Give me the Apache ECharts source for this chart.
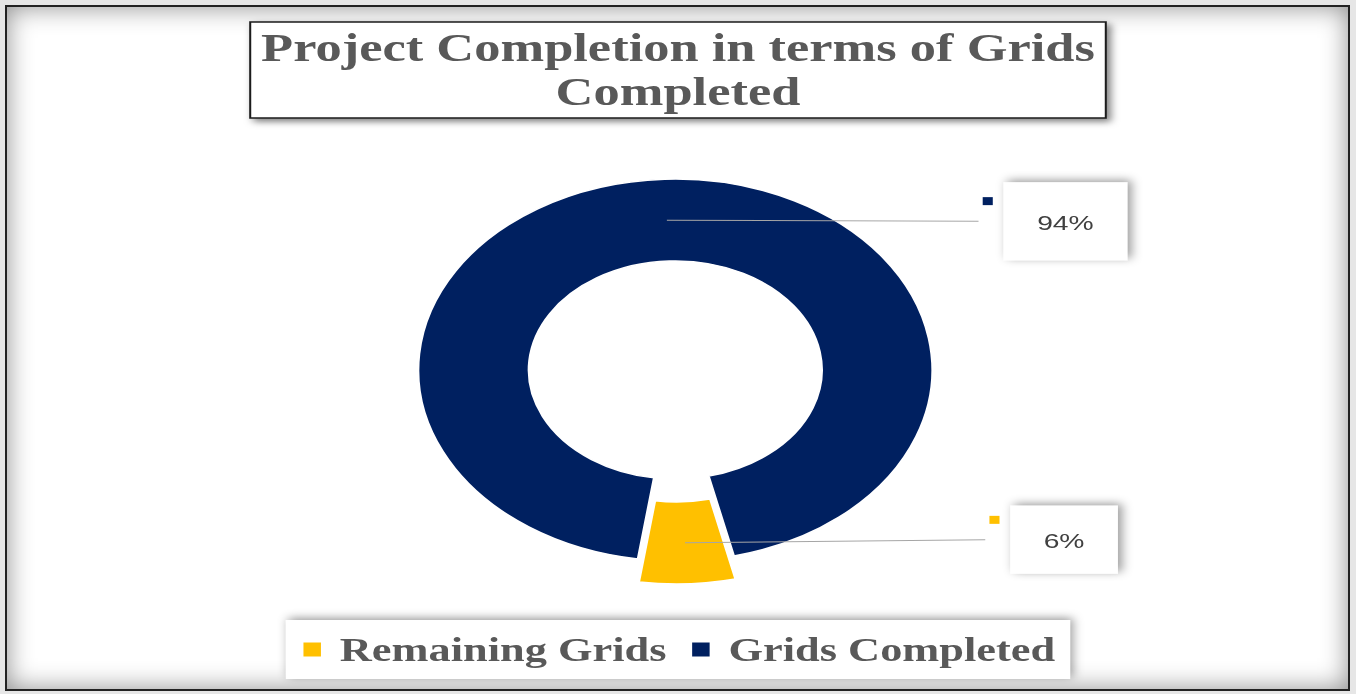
<!DOCTYPE html>
<html>
<head>
<meta charset="utf-8">
<title>Project Completion in terms of Grids Completed</title>
<script src="https://cdn.jsdelivr.net/npm/echarts@6/dist/echarts.min.js"></script>
<style>
  html, body { margin: 0; padding: 0; width: 1356px; height: 694px; overflow: hidden; background: #e6e6e6; }
  #frame {
    position: absolute; left: 5px; top: 5px; width: 1341px; height: 682px;
    border: 2px solid #222; background: #fff;
    box-shadow: inset 0 0 26px rgba(0, 0, 0, 0.45);
  }
  /* the original picture is stretched sideways, so the chart is drawn narrow and widened */
  #main {
    position: absolute; left: 0; top: 0; width: 1008px; height: 694px;
    transform: scaleX(1.34524); transform-origin: 0 0;
  }
</style>
</head>
<body>
<div id="frame"></div>
<div id="main"></div>
<script>
// data
var categories = ['Remaining Grids', 'Grids Completed'];
var values = [6, 94];
var titleText = 'Project Completion in terms of Grids\nCompleted';

// styles / layout
var colors = ['#FFC000', '#002060'];
var pieCenter = [502, 370];
var pieRadius = [109, 191];
var startAngle = 283.2;   // yellow slice sits just right of the bottom
var explodeOffset = 23;   // remaining grids is pulled out
var labelBoxLeft = [751, 746];
var labelBoxW = [80, 92];
var labelBoxH = [68, 78];
var labelDy = [-3, 1];

var myChart = echarts.init(document.getElementById('main'), null, {renderer: 'svg'});

var total = 0;
for (var k = 0; k < values.length; k++) total += values[k];

var pieData = [];
for (var i = 0; i < categories.length; i++) {
    pieData.push({
        name: categories[i],
        value: values[i],
        selected: i === 0,
        itemStyle: {color: colors[i]}
    });
}

// leader line + boxed label for each slice, placed from the slice's middle
var renderLabel = function (params, api) {
    var i = params.dataIndex;
    var before = 0;
    for (var j = 0; j < i; j++) before += values[j];
    var mid = (startAngle - (before + values[i] / 2) / total * 360) * Math.PI / 180;
    var r = (pieRadius[0] + pieRadius[1]) / 2 + (i === 0 ? explodeOffset : 0);
    var sx = pieCenter[0] + r * Math.cos(mid);
    var sy = pieCenter[1] - r * Math.sin(mid);
    var cy = sy + labelDy[i];
    var bx = labelBoxLeft[i];
    var bw = labelBoxW[i], bh = labelBoxH[i];
    var pct = Math.round(values[i] / total * 100) + '%';
    return {
        type: 'group',
        children: [
            {
                type: 'polyline',
                shape: {points: [[sx, sy], [bx - 18.6, cy]]},
                style: {stroke: '#a6a6a6', lineWidth: 1, fill: null}
            },
            {
                type: 'rect',
                shape: {x: bx, y: cy - bh / 2, width: bw, height: bh},
                style: {
                    fill: '#fff',
                    shadowBlur: 8,
                    shadowColor: 'rgba(0,0,0,0.4)',
                    shadowOffsetX: 3,
                    shadowOffsetY: -2
                }
            },
            {
                type: 'rect',
                shape: {x: bx - 15.5, y: cy - 24, width: 7.5, height: 8},
                style: {fill: colors[i]}
            },
            {
                type: 'text',
                style: {
                    text: pct,
                    x: bx + bw / 2,
                    y: cy + 1,
                    fill: '#404040',
                    font: '21px "Liberation Sans"',
                    align: 'center',
                    verticalAlign: 'middle'
                }
            }
        ]
    };
};

option = {
    animation: false,
    backgroundColor: 'transparent',
    title: {
        text: titleText,
        left: 'center',
        top: 22,
        padding: [4, 8],
        backgroundColor: '#fff',
        borderColor: '#1a1a1a',
        borderWidth: 1.5,
        shadowBlur: 6,
        shadowColor: 'rgba(0,0,0,0.5)',
        shadowOffsetX: 3,
        shadowOffsetY: 3,
        textStyle: {
            fontFamily: '"Liberation Serif"',
            fontWeight: 'bold',
            fontSize: 39,
            lineHeight: 44,
            color: '#595959'
        }
    },
    legend: {
        data: categories,
        left: 'center',
        top: 620,
        padding: [13, 11],
        itemGap: 17,
        itemWidth: 15,
        itemHeight: 16,
        icon: 'rect',
        backgroundColor: '#fff',
        shadowBlur: 8,
        shadowColor: 'rgba(0,0,0,0.4)',
        shadowOffsetX: 2,
        shadowOffsetY: -2,
        textStyle: {
            fontFamily: '"Liberation Serif"',
            fontWeight: 'bold',
            fontSize: 33,
            color: '#595959',
            padding: [0, 0, 0, 8]
        }
    },
    series: [
        {
            name: 'Grids',
            type: 'pie',
            center: pieCenter,
            radius: pieRadius,
            startAngle: startAngle,
            clockwise: true,
            selectedMode: 'single',
            selectedOffset: explodeOffset,
            avoidLabelOverlap: false,
            label: {show: false},
            labelLine: {show: false},
            itemStyle: {borderColor: '#fff', borderWidth: 1.5},
            select: {itemStyle: {borderColor: '#fff', borderWidth: 1.5}},
            emphasis: {disabled: true},
            data: pieData
        },
        {
            name: 'labels',
            type: 'custom',
            coordinateSystem: 'none',
            silent: true,
            renderItem: renderLabel,
            data: values.map(function (v) { return [v]; }),
            z: 5
        }
    ]
};
myChart.setOption(option);
</script>
</body>
</html>
